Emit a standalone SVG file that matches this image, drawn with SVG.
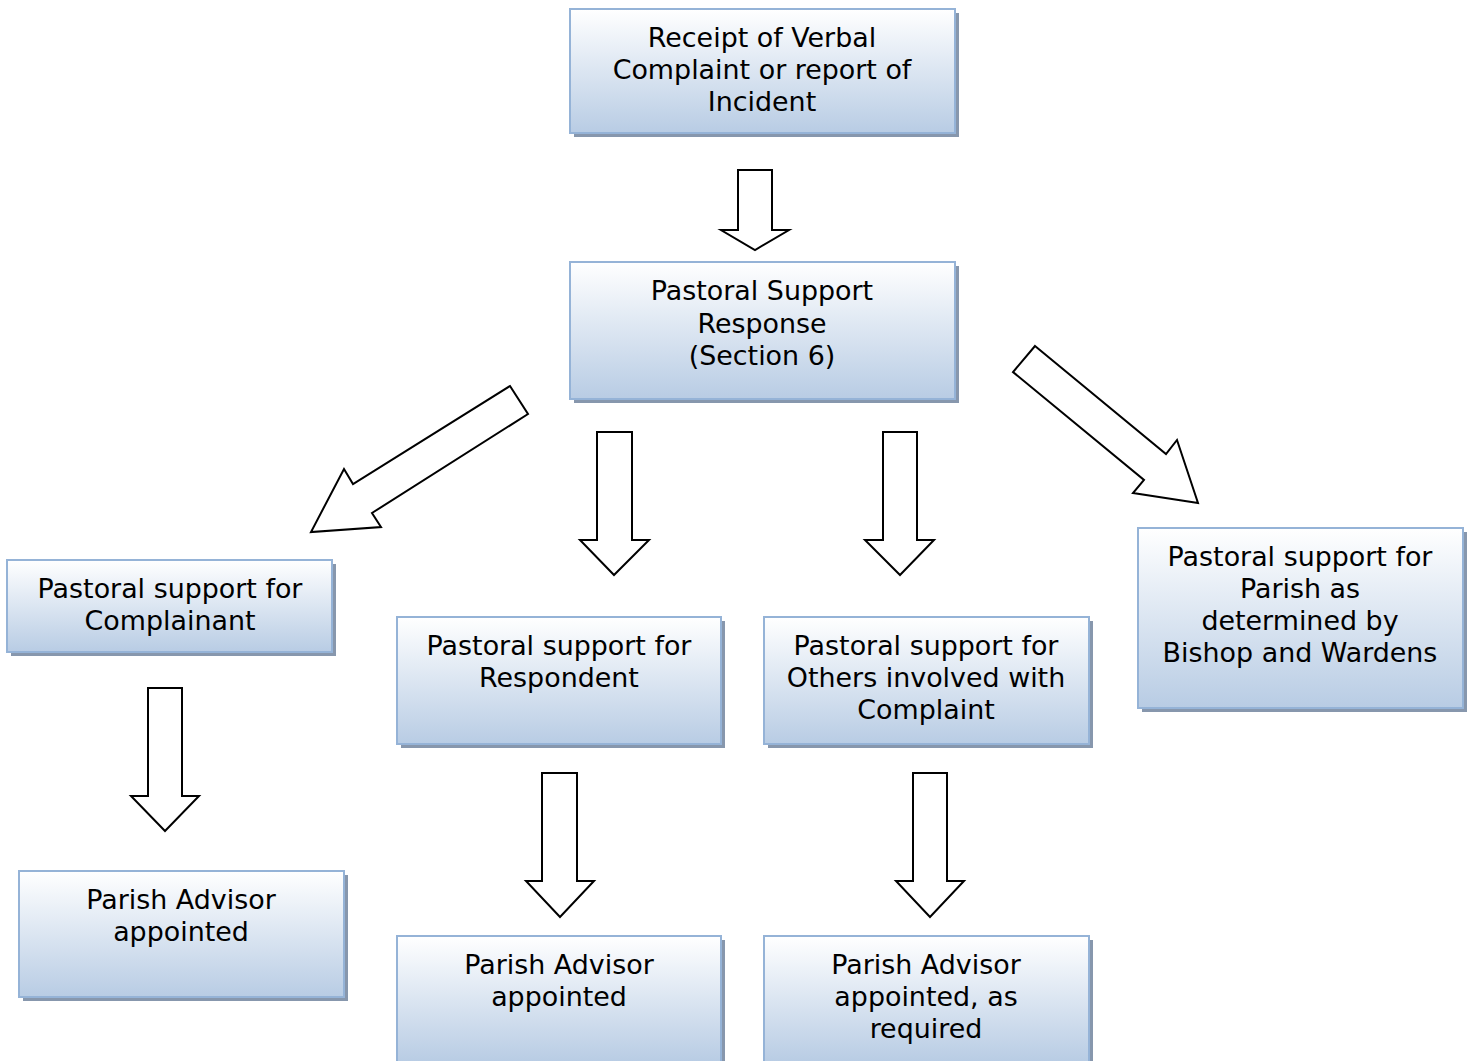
<svg xmlns="http://www.w3.org/2000/svg" width="1468" height="1061" viewBox="0 0 1468 1061">
<defs>
<linearGradient id="g" x1="0" y1="0" x2="0" y2="1">
<stop offset="0" stop-color="#ffffff"/>
<stop offset="1" stop-color="#b8cce4"/>
</linearGradient>
<style>
.box{fill:url(#g);stroke:#95b3d7;stroke-width:2}
.sh{fill:#8797ad}
.arr{fill:#fff;stroke:#000;stroke-width:2;stroke-linejoin:miter}
text{font-family:"DejaVu Sans","Liberation Sans",sans-serif;font-size:26.9px;fill:#000;text-anchor:middle}
</style>
</defs>
<rect width="1468" height="1061" fill="#fff"/>
<g id="connectors">
<polygon class="arr" points="738,170 772,170 772,230 789,230 755,250 721,230 738,230"/>
<polygon class="arr" points="597,432 632,432 632,540 649,540 614,575 580,540 597,540"/>
<polygon class="arr" points="883,432 917,432 917,540 934,540 900,575 865,540 883,540"/>
<polygon class="arr" points="148,688 182,688 182,796 199,796 165,831 131,796 148,796"/>
<polygon class="arr" points="542,773 577,773 577,881 594,881 560,917 526,881 542,881"/>
<polygon class="arr" points="913,773 947,773 947,881 964,881 930,917 896,881 913,881"/>
<polygon class="arr" points="510,386 528,414 372,513 381,527 311,532 344,469 353,484"/>
<polygon class="arr" points="1035,346 1166,454 1177,440 1198,503 1133,493 1144,480 1013,372"/>
</g>
<g id="n1">
<rect class="sh" x="574" y="13" width="385" height="124"/>
<rect class="box" x="570" y="9" width="385" height="124"/>
<text x="762" y="47">Receipt of Verbal</text>
<text x="762" y="79">Complaint or report of</text>
<text x="762" y="111">Incident</text>
</g>
<g id="n2">
<rect class="sh" x="574" y="266" width="385" height="137"/>
<rect class="box" x="570" y="262" width="385" height="137"/>
<text x="762" y="300">Pastoral Support</text>
<text x="762" y="333">Response</text>
<text x="762" y="365">(Section 6)</text>
</g>
<g id="n3">
<rect class="sh" x="11" y="564" width="325" height="92"/>
<rect class="box" x="7" y="560" width="325" height="92"/>
<text x="170" y="598">Pastoral support for</text>
<text x="170" y="630">Complainant</text>
</g>
<g id="n4">
<rect class="sh" x="401" y="621" width="324" height="127"/>
<rect class="box" x="397" y="617" width="324" height="127"/>
<text x="559" y="655">Pastoral support for</text>
<text x="559" y="687">Respondent</text>
</g>
<g id="n5">
<rect class="sh" x="768" y="621" width="325" height="127"/>
<rect class="box" x="764" y="617" width="325" height="127"/>
<text x="926" y="655">Pastoral support for</text>
<text x="926" y="687">Others involved with</text>
<text x="926" y="719">Complaint</text>
</g>
<g id="n6">
<rect class="sh" x="1142" y="532" width="325" height="180"/>
<rect class="box" x="1138" y="528" width="325" height="180"/>
<text x="1300" y="566">Pastoral support for</text>
<text x="1300" y="598">Parish as</text>
<text x="1300" y="630">determined by</text>
<text x="1300" y="662">Bishop and Wardens</text>
</g>
<g id="n7">
<rect class="sh" x="23" y="875" width="325" height="126"/>
<rect class="box" x="19" y="871" width="325" height="126"/>
<text x="181" y="909">Parish Advisor</text>
<text x="181" y="941">appointed</text>
</g>
<g id="n8">
<rect class="sh" x="401" y="940" width="324" height="126"/>
<rect class="box" x="397" y="936" width="324" height="126"/>
<text x="559" y="974">Parish Advisor</text>
<text x="559" y="1006">appointed</text>
</g>
<g id="n9">
<rect class="sh" x="768" y="940" width="325" height="126"/>
<rect class="box" x="764" y="936" width="325" height="126"/>
<text x="926" y="974">Parish Advisor</text>
<text x="926" y="1006">appointed, as</text>
<text x="926" y="1038">required</text>
</g>
</svg>
